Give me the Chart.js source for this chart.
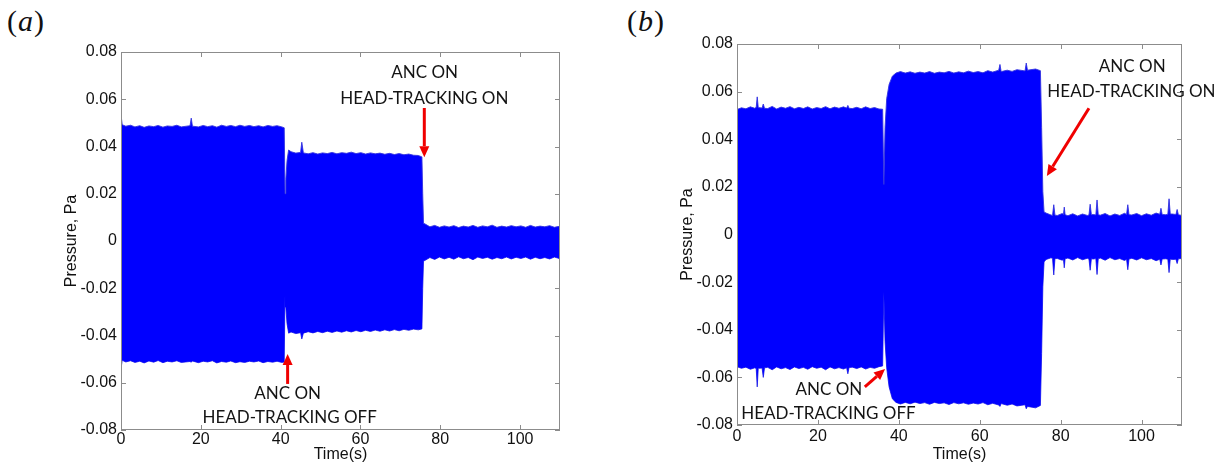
<!DOCTYPE html>
<html>
<head>
<meta charset="utf-8">
<script src="https://cdn.jsdelivr.net/npm/chart.js@4.4.1/dist/chart.umd.min.js"></script>
<style>
  body { margin: 0; background: #fff; width: 1225px; height: 468px; position: relative; overflow: hidden; }
  .panel { position: absolute; top: 0; }
  .tag { position: absolute; top: 6px; font-family: "Liberation Serif", serif; font-size: 30px; color: #111; line-height: 1; }
  .tag i { padding: 0 1px; }
</style>
</head>
<body>
<div class="tag" style="left:7px">(<i>a</i>)</div>
<div class="tag" style="left:627px">(<i>b</i>)</div>
<div class="panel" style="left:0"><canvas id="panelA" width="612" height="468"></canvas></div>
<div class="panel" style="left:612px"><canvas id="panelB" width="613" height="468"></canvas></div>
<script>
// envelope of the pressure trace (upper / lower edge), time in s, pressure in Pa

// (a)
const timeA = [
  0, 0.3, 1.2, 2.4, 3.5, 4.7, 5.8, 7, 8.2, 9.3, 10.5, 11.6, 12.8, 14, 15.1, 17.3, 17.6, 17.9, 19.4,
  20.6, 21.7, 22.9, 24, 25.2, 26.4, 27.5, 28.7, 29.8, 31, 32.2, 33.3, 34.5, 35.6, 36.8, 38, 39.1, 40.3, 40.9,
  41.1, 41.3, 41.6, 42.0,
  42.6, 43.8, 45.0, 45.3, 45.7, 46.9, 48.1, 49.3, 50.5, 51.7, 52.9, 54.1, 55.3, 56.5, 57.7,
  58.9, 60.1, 61.3, 62.5, 63.7, 64.9, 66.1, 67.3, 68.5, 69.7, 70.9, 72.1, 73.3, 74.5, 75.4,
  75.6, 75.8,
  76.2, 77.4, 78.6, 79.8, 81, 82.2, 83.4, 84.6, 85.8, 87, 88.2, 89.4, 90.6, 91.8, 93,
  94.2, 95.4, 96.6, 97.8, 99, 100.2, 101.4, 102.6, 103.8, 105, 106.2, 107.4, 108.6, 109.8, 110
];
const upperA = [
  0.0535, 0.0492, 0.0486, 0.0490, 0.0483, 0.0488, 0.0481, 0.0487, 0.0484, 0.0489, 0.0482, 0.0487, 0.0485, 0.0490, 0.0483, 0.0488, 0.0520, 0.0486, 0.0483,
  0.0489, 0.0484, 0.0488, 0.0482, 0.0490, 0.0485, 0.0489, 0.0484, 0.0490, 0.0485, 0.0489, 0.0484, 0.0488, 0.0483, 0.0489, 0.0485, 0.0488, 0.0483, 0.0479,
  0.020, 0.026, 0.034, 0.0385,
  0.0378, 0.0372, 0.0375, 0.0418, 0.0373, 0.0369, 0.0374, 0.0368, 0.0373, 0.0370, 0.0375, 0.0369, 0.0374, 0.0371, 0.0376,
  0.0370, 0.0374, 0.0368, 0.0373, 0.0369, 0.0372, 0.0367, 0.0371, 0.0366, 0.0370, 0.0365, 0.0368, 0.0363, 0.0362, 0.0356,
  0.020, 0.0075,
  0.0072, 0.0060, 0.0066, 0.0058, 0.0064, 0.0059, 0.0065, 0.0057, 0.0063, 0.0059, 0.0066, 0.0058, 0.0064, 0.0060, 0.0067,
  0.0058, 0.0063, 0.0059, 0.0065, 0.0060, 0.0064, 0.0058, 0.0066, 0.0059, 0.0063, 0.0060, 0.0065, 0.0058, 0.0062, 0.0060
];
const lowerA = [
  -0.0540, -0.0505, -0.0512, -0.0507, -0.0514, -0.0509, -0.0516, -0.0508, -0.0513, -0.0506, -0.0515, -0.0509, -0.0512, -0.0507, -0.0514, -0.0510, -0.0513, -0.0508, -0.0515,
  -0.0509, -0.0512, -0.0507, -0.0516, -0.0510, -0.0513, -0.0508, -0.0515, -0.0511, -0.0514, -0.0509, -0.0512, -0.0508, -0.0515, -0.0510, -0.0513, -0.0509, -0.0514, -0.0512,
  -0.022, -0.028, -0.035, -0.0390,
  -0.0385, -0.0392, -0.0388, -0.0415, -0.0390, -0.0384, -0.0389, -0.0383, -0.0388, -0.0382, -0.0387, -0.0381, -0.0386, -0.0380, -0.0385,
  -0.0379, -0.0384, -0.0378, -0.0383, -0.0377, -0.0382, -0.0376, -0.0381, -0.0375, -0.0380, -0.0374, -0.0378, -0.0373, -0.0376, -0.0372,
  -0.020, -0.0085,
  -0.0082, -0.0070, -0.0078, -0.0068, -0.0076, -0.0069, -0.0077, -0.0067, -0.0075, -0.0070, -0.0079, -0.0068, -0.0074, -0.0069, -0.0077,
  -0.0070, -0.0075, -0.0068, -0.0076, -0.0069, -0.0074, -0.0068, -0.0077, -0.0069, -0.0075, -0.0070, -0.0076, -0.0068, -0.0074, -0.0070
];

// (b)
const timeB = [
  0, 1.1, 2.2, 3.3, 4.4, 4.75, 5.0, 5.25, 6.2, 6.5, 6.8, 7.6, 8.7, 9.8, 10.9, 12, 13.1, 14.2, 15.3, 16.4,
  17.5, 18.6, 19.7, 20.8, 21.9, 23, 24.1, 25.2, 26.3, 27.1, 27.4, 27.7, 28.5, 29.6, 30.7, 31.8, 32.9, 34, 35.1, 36.0,
  36.3, 36.6, 37.0, 37.6, 38.4, 39.3,
  40.4, 41.6, 42.8, 44, 45.2, 46.4, 47.6, 48.8, 50, 51.2, 52.4, 53.6, 54.8, 56, 57.2, 58.4,
  59.6, 60.8, 62, 63.2, 64.7, 65, 65.3, 66.8, 68, 69.2, 71.2, 71.5, 71.8, 73.8, 75.0,
  75.3, 75.6, 75.9,
  76.4, 77.6, 78.0, 78.3, 78.6, 79.2, 80.4, 80.7, 80.9, 81.1, 81.8, 83, 84.2, 85.4, 86.6, 87.0, 87.3, 87.6, 88.1, 88.7,
  89, 89.3, 89.8, 91, 92.2, 93.4, 94.6, 95.8, 96.3, 96.6, 96.9, 97.6, 98.8, 100, 101.2, 102.4, 103.6, 104.5, 104.8, 105.1,
  106, 106.5, 106.8, 107.1, 107.6, 108.5, 108.8, 109.1, 110
];
const upperB = [
  0.0525, 0.0532, 0.0528, 0.0536, 0.0530, 0.0534, 0.0578, 0.0533, 0.0531, 0.0548, 0.0530, 0.0529, 0.0538, 0.0527, 0.0535, 0.0530, 0.0537, 0.0528, 0.0534, 0.0529,
  0.0536, 0.0527, 0.0533, 0.0529, 0.0537, 0.0528, 0.0535, 0.0530, 0.0536, 0.0531, 0.0542, 0.0530, 0.0529, 0.0534, 0.0528, 0.0536, 0.0529, 0.0533, 0.0527, 0.0526,
  0.021, 0.045, 0.057, 0.063, 0.0665, 0.0678,
  0.0684, 0.0678, 0.0683, 0.0677, 0.0682, 0.0678, 0.0684, 0.0677, 0.0682, 0.0679, 0.0685, 0.0678, 0.0683, 0.0679, 0.0686, 0.0680,
  0.0684, 0.0679, 0.0688, 0.0682, 0.0690, 0.0714, 0.0684, 0.0690, 0.0685, 0.0692, 0.0687, 0.0720, 0.0690, 0.0695, 0.0688,
  0.045, 0.018, 0.0095,
  0.0090, 0.0082, 0.0080, 0.0125, 0.0081, 0.0080, 0.0088, 0.0084, 0.0115, 0.0083, 0.0079, 0.0087, 0.0078, 0.0086, 0.0080, 0.0082, 0.0127, 0.0083, 0.0084, 0.0082,
  0.0145, 0.0083, 0.0081, 0.0088, 0.0078, 0.0086, 0.0080, 0.0089, 0.0084, 0.0125, 0.0083, 0.0082, 0.0088, 0.0079, 0.0087, 0.0081, 0.0090, 0.0085, 0.0110, 0.0084,
  0.0083, 0.0085, 0.0150, 0.0086, 0.0086, 0.0084, 0.0105, 0.0083, 0.0080
];
const lowerB = [
  -0.0555, -0.0562, -0.0557, -0.0566, -0.0560, -0.0563, -0.0640, -0.0562, -0.0561, -0.0600, -0.0560, -0.0558, -0.0568, -0.0556, -0.0564, -0.0559, -0.0567, -0.0556, -0.0563, -0.0558,
  -0.0566, -0.0555, -0.0562, -0.0557, -0.0568, -0.0556, -0.0564, -0.0559, -0.0565, -0.0560, -0.0585, -0.0559, -0.0557, -0.0563, -0.0556, -0.0565, -0.0558, -0.0562, -0.0555, -0.0552,
  -0.024, -0.045, -0.056, -0.064, -0.069, -0.0705,
  -0.0712, -0.0705, -0.0711, -0.0704, -0.0710, -0.0706, -0.0713, -0.0705, -0.0710, -0.0707, -0.0714, -0.0706, -0.0711, -0.0707, -0.0713, -0.0708,
  -0.0712, -0.0706, -0.0715, -0.0709, -0.0716, -0.0722, -0.0710, -0.0717, -0.0712, -0.0720, -0.0715, -0.0732, -0.0722, -0.0728, -0.0718,
  -0.050, -0.022, -0.0115,
  -0.0105, -0.0098, -0.0100, -0.0170, -0.0101, -0.0101, -0.0108, -0.0104, -0.0140, -0.0102, -0.0099, -0.0107, -0.0097, -0.0106, -0.0100, -0.0103, -0.0150, -0.0102, -0.0103, -0.0101,
  -0.0168, -0.0102, -0.0099, -0.0108, -0.0097, -0.0106, -0.0101, -0.0109, -0.0104, -0.0148, -0.0103, -0.0100, -0.0107, -0.0098, -0.0106, -0.0101, -0.0110, -0.0104, -0.0128, -0.0103,
  -0.0102, -0.0104, -0.0160, -0.0103, -0.0105, -0.0104, -0.0122, -0.0102, -0.0101
];

// callouts, placed in data units
const notesA = [
  { text: 'ANC ON', t: 76.1, v: 0.0713 },
  { text: 'HEAD-TRACKING ON', t: 76.0, v: 0.0604 },
  { text: 'ANC ON', t: 41.75, v: -0.0646 },
  { text: 'HEAD-TRACKING OFF', t: 42.25, v: -0.0748 }
];
const arrowsA = [
  { from: [76, 0.0563], to: [76, 0.0355] },
  { from: [41.75, -0.0605], to: [41.75, -0.0478] }
];
const notesB = [
  { text: 'ANC ON', t: 97.7, v: 0.0705 },
  { text: 'HEAD-TRACKING ON', t: 97.5, v: 0.0600 },
  { text: 'ANC ON', t: 22.7, v: -0.0650 },
  { text: 'HEAD-TRACKING OFF', t: 22.6, v: -0.0750 }
];
const arrowsB = [
  { from: [87.0, 0.0530], to: [76.6, 0.0246] },
  { from: [31.6, -0.0640], to: [36.6, -0.0565] }
];

function buildPoints(times, values) {
  return times.map((t, i) => ({ x: t, y: values[i] }));
}

// matlab style box: ticks pointing inwards on all four sides
const boxAxes = {
  id: 'boxAxes',
  beforeDatasetsDraw(chart) {
    const { ctx, chartArea: a, scales: { x, y } } = chart;
    ctx.save();
    ctx.strokeStyle = '#8c8c8c';
    ctx.lineWidth = 1;
    ctx.beginPath();
    x.ticks.forEach(tk => {
      const px = Math.round(x.getPixelForValue(tk.value)) + 0.5;
      ctx.moveTo(px, a.bottom); ctx.lineTo(px, a.bottom - 5);
      ctx.moveTo(px, a.top); ctx.lineTo(px, a.top + 5);
    });
    y.ticks.forEach(tk => {
      const py = Math.round(y.getPixelForValue(tk.value)) + 0.5;
      ctx.moveTo(a.left, py); ctx.lineTo(a.left + 5, py);
      ctx.moveTo(a.right, py); ctx.lineTo(a.right - 5, py);
    });
    ctx.stroke();
    ctx.restore();
  },
  afterDatasetsDraw(chart) {
    const { ctx, chartArea: a } = chart;
    ctx.save();
    ctx.strokeStyle = '#8c8c8c';
    ctx.lineWidth = 1;
    ctx.strokeRect(Math.round(a.left) + 0.5, Math.round(a.top) + 0.5,
      Math.round(a.right - a.left) - 1, Math.round(a.bottom - a.top) - 1);
    ctx.restore();
  }
};

function makeCallouts(notes, arrows) {
  return {
    id: 'callouts',
    afterDraw(chart) {
      const { ctx, scales: { x, y } } = chart;
      ctx.save();
      ctx.strokeStyle = '#f00000';
      ctx.fillStyle = '#f00000';
      ctx.lineWidth = 3;
      arrows.forEach(ar => {
        const x0 = x.getPixelForValue(ar.from[0]), y0 = y.getPixelForValue(ar.from[1]);
        const x1 = x.getPixelForValue(ar.to[0]), y1 = y.getPixelForValue(ar.to[1]);
        const ang = Math.atan2(y1 - y0, x1 - x0);
        const bx = x1 - 11 * Math.cos(ang), by = y1 - 11 * Math.sin(ang);
        ctx.beginPath(); ctx.moveTo(x0, y0); ctx.lineTo(bx, by); ctx.stroke();
        ctx.beginPath();
        ctx.moveTo(x1, y1);
        ctx.lineTo(bx + 5 * Math.sin(ang), by - 5 * Math.cos(ang));
        ctx.lineTo(bx - 5 * Math.sin(ang), by + 5 * Math.cos(ang));
        ctx.closePath();
        ctx.fill();
      });
      ctx.fillStyle = '#141414';
      ctx.font = '17px Lato';
      ctx.textAlign = 'center';
      ctx.textBaseline = 'middle';
      notes.forEach(n => ctx.fillText(n.text, x.getPixelForValue(n.t), y.getPixelForValue(n.v)));
      ctx.restore();
    }
  };
}

const axisFont = { family: '"Liberation Sans", Arial, sans-serif', size: 16 };

function drawPanel(id, times, upper, lower, box, notes, arrows) {
  return new Chart(document.getElementById(id), {
    type: 'line',
    data: {
      datasets: [
        { data: buildPoints(times, upper), fill: '+1', backgroundColor: '#0000ff',
          borderColor: 'rgba(50,50,225,0.9)', borderWidth: 1, pointRadius: 0, tension: 0 },
        { data: buildPoints(times, lower), fill: false,
          borderColor: 'rgba(50,50,225,0.9)', borderWidth: 1, pointRadius: 0, tension: 0 }
      ]
    },
    options: {
      responsive: false,
      animation: false,
      events: [],
      layout: { padding: { top: box.top, right: box.right, left: 0, bottom: 0 } },
      plugins: { legend: { display: false }, tooltip: { enabled: false } },
      scales: {
        x: {
          type: 'linear', min: 0, max: 110,
          grid: { display: false, drawTicks: false },
          border: { display: false },
          ticks: { stepSize: 20, includeBounds: false, padding: box.xTickPad, color: '#111', font: axisFont, maxRotation: 0 },
          title: { display: true, text: 'Time(s)', color: '#111', font: axisFont, padding: { top: 0, bottom: box.xTitlePad } },
          afterFit: s => { s.height = box.xHeight; }
        },
        y: {
          min: -0.08, max: 0.08,
          grid: { display: false, drawTicks: false },
          border: { display: false },
          ticks: { stepSize: 0.02, padding: 4, color: '#111', font: axisFont,
                   callback: v => Math.abs(v) < 1e-9 ? '0' : v.toFixed(2) },
          title: { display: true, text: 'Pressure, Pa', color: '#111', font: axisFont, padding: { top: box.yTitlePad, bottom: 0 } },
          afterFit: s => { s.width = box.yWidth; }
        }
      }
    },
    plugins: [boxAxes, makeCallouts(notes, arrows)]
  });
}

drawPanel('panelA', timeA, upperA, lowerA,
  { top: 52, right: 52, yWidth: 121, xHeight: 38, xTickPad: 0, xTitlePad: 4, yTitlePad: 62 },
  notesA, arrowsA);
drawPanel('panelB', timeB, upperB, lowerB,
  { top: 44, right: 43, yWidth: 125, xHeight: 43, xTickPad: 2, xTitlePad: 4, yTitlePad: 66 },
  notesB, arrowsB);
</script>
</body>
</html>
